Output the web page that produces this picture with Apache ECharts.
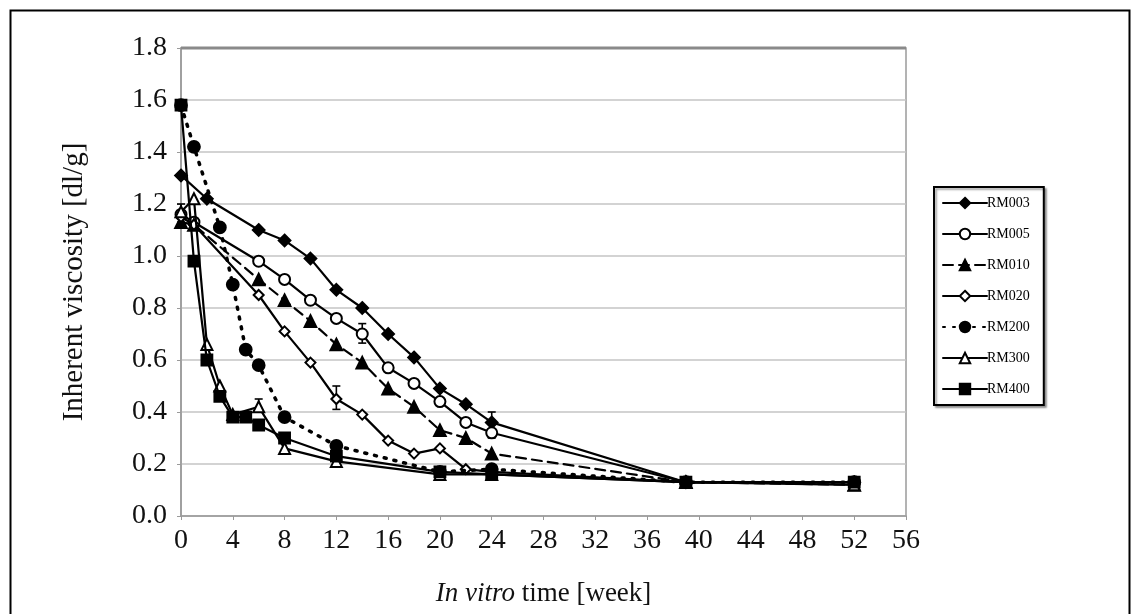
<!DOCTYPE html>
<html>
<head>
<meta charset="utf-8">
<script src="https://cdn.jsdelivr.net/npm/echarts@6/dist/echarts.min.js"></script>
<style>
html,body{margin:0;padding:0;background:#fff;}
#chart{width:1135px;height:614px;}
</style>
</head>
<body>
<div id="chart"></div>
<script>
// ---- data ----
const seriesNames = ['RM003','RM005','RM010','RM020','RM200','RM300','RM400'];

const rm003X = [0,2,6,8,10,12,14,16,18,20,22,24,39,52];
const rm003Y = [1.31,1.22,1.10,1.06,0.99,0.87,0.80,0.70,0.61,0.49,0.43,0.36,0.13,0.13];

const rm005X = [0,1,6,8,10,12,14,16,18,20,22,24,39,52];
const rm005Y = [1.16,1.13,0.98,0.91,0.83,0.76,0.70,0.57,0.51,0.44,0.36,0.32,0.13,0.13];

const rm010X = [0,1,6,8,10,12,14,16,18,20,22,24,39,52];
const rm010Y = [1.13,1.12,0.91,0.83,0.75,0.66,0.59,0.49,0.42,0.33,0.30,0.24,0.13,0.12];

const rm020X = [0,1,6,8,10,12,14,16,18,20,22,24,39,52];
const rm020Y = [1.15,1.12,0.85,0.71,0.59,0.45,0.39,0.29,0.24,0.26,0.18,0.17,0.13,0.13];

const rm200X = [0,1,3,4,5,6,8,12,20,24,39,52];
const rm200Y = [1.58,1.42,1.11,0.89,0.64,0.58,0.38,0.27,0.17,0.18,0.13,0.13];

const rm300X = [0,1,2,3,4,6,8,12,20,24,39,52];
const rm300Y = [1.17,1.22,0.66,0.50,0.39,0.42,0.26,0.21,0.16,0.16,0.13,0.12];

const rm400X = [0,1,2,3,4,5,6,8,12,20,24,39,52];
const rm400Y = [1.58,0.98,0.60,0.46,0.38,0.38,0.35,0.30,0.23,0.17,0.16,0.13,0.13];

// error bars: week, low, high
const errX    = [0,    6,    12,   14,   24];
const errLow  = [1.13, 0.40, 0.41, 0.665,0.30];
const errHigh = [1.20, 0.45, 0.50, 0.74, 0.40];

const xTicks = [0,4,8,12,16,20,24,28,32,36,40,44,48,52,56];
const yTicks = [0.0,0.2,0.4,0.6,0.8,1.0,1.2,1.4,1.6,1.8];

// ---- build ----
function pairs(xs, ys){ return xs.map((x,i)=>[x, ys[i]]); }
const allX = [rm003X,rm005X,rm010X,rm020X,rm200X,rm300X,rm400X];
const allY = [rm003Y,rm005Y,rm010Y,rm020Y,rm200Y,rm300Y,rm400Y];
const symbols = ['diamond','emptyCircle','triangle','emptyDiamond','circle','emptyTriangle','rect'];
const symSizes = [12,11,12,10,12,11,11];
const lineTypes = ['solid','solid',[10,6],'solid',[2,8],'solid','solid'];
const lineWidths = [2.2,2.2,2.2,2.2,3.5,2.2,2.2];

const FONT = '"Liberation Serif","DejaVu Serif",serif';

const series = seriesNames.map((n,i)=>({
  name: n,
  type: 'line',
  data: pairs(allX[i], allY[i]),
  symbol: symbols[i],
  symbolSize: symSizes[i],
  showAllSymbol: true,
  lineStyle: {color:'#000', width: lineWidths[i], type: lineTypes[i], cap: 'round'},
  itemStyle: {color:'#000', borderColor:'#000', borderWidth: 1.8},
  emphasis: {disabled: true},
  z: 3 + i
}));

series.push({
  name: 'err',
  type: 'custom',
  data: errX.map((x,i)=>[x, errLow[i], errHigh[i]]),
  renderItem: function(params, api){
    const lo = api.coord([api.value(0), api.value(1)]);
    const hi = api.coord([api.value(0), api.value(2)]);
    const w = 4;
    const st = {stroke:'#000', lineWidth:1.6};
    return {type:'group', children:[
      {type:'line', shape:{x1:lo[0],y1:lo[1],x2:hi[0],y2:hi[1]}, style:st},
      {type:'line', shape:{x1:lo[0]-w,y1:lo[1],x2:lo[0]+w,y2:lo[1]}, style:st},
      {type:'line', shape:{x1:hi[0]-w,y1:hi[1],x2:hi[0]+w,y2:hi[1]}, style:st}
    ]};
  },
  z: 2
});

const chart = echarts.init(document.getElementById('chart'), null, {renderer:'canvas'});
chart.setOption({
  backgroundColor: '#fff',
  animation: false,
  graphic: [{
    type:'rect', left: 8, top: 8, shape:{width:1119, height:640},
    style:{fill:'none', stroke:'#000', lineWidth:2}, silent:true, z:-1
  },{
    type:'line', shape:{x1:181, y1:48, x2:906, y2:48},
    style:{stroke:'#8a8a8a', lineWidth:3}, silent:true, z:1
  }],
  grid: {left:181, top:48, right:229, bottom:98, show:true, borderColor:'#9a9a9a', borderWidth:1.5, backgroundColor:'#fff'},
  legend: {
    data: seriesNames,
    orient: 'vertical',
    left: 934, top: 187,
    itemWidth: 44, itemHeight: 13,
    itemGap: 17,
    padding: [9, 14, 9, 8],
    borderColor: '#000', borderWidth: 2,
    backgroundColor: '#fff',
    shadowColor: 'rgba(0,0,0,0.35)', shadowOffsetX: 2, shadowOffsetY: 2, shadowBlur: 2,
    textStyle: {fontFamily: FONT, fontSize: 14, color:'#000', padding:[0,0,0,-5]},
    inactiveColor: '#000'
  },
  xAxis: {
    type: 'value', min: 0, max: 56, interval: 4,
    name: '{it|In vitro} time [week]',
    nameLocation: 'middle', nameGap: 64,
    nameTextStyle: {fontFamily: FONT, fontSize: 27, color:'#111',
      rich: {it:{fontFamily: FONT, fontSize:27, fontStyle:'italic', color:'#111'}}},
    axisLine: {lineStyle:{color:'#9a9a9a', width:1.5}},
    axisTick: {show:true, length:4, lineStyle:{color:'#9a9a9a'}},
    axisLabel: {fontFamily: FONT, fontSize: 28, color:'#111', margin: 11,
      formatter: v => xTicks.includes(v) ? String(v) : ''},
    splitLine: {show:false}
  },
  yAxis: {
    type: 'value', min: 0, max: 1.8, interval: 0.2,
    name: 'Inherent viscosity [dl/g]',
    nameLocation: 'middle', nameGap: 92,
    nameTextStyle: {fontFamily: FONT, fontSize: 29, color:'#111'},
    axisLine: {show:true, lineStyle:{color:'#9a9a9a', width:1.5}},
    axisTick: {show:true, length:4, lineStyle:{color:'#9a9a9a'}},
    axisLabel: {fontFamily: FONT, fontSize: 28, color:'#111', margin: 14,
      formatter: v => yTicks.find(t=>Math.abs(t-v)<1e-6) !== undefined ? v.toFixed(1) : ''},
    splitLine: {show:true, lineStyle:{color:'#c4c4c4', width:1.5}}
  },
  series: series
});
</script>
</body>
</html>
